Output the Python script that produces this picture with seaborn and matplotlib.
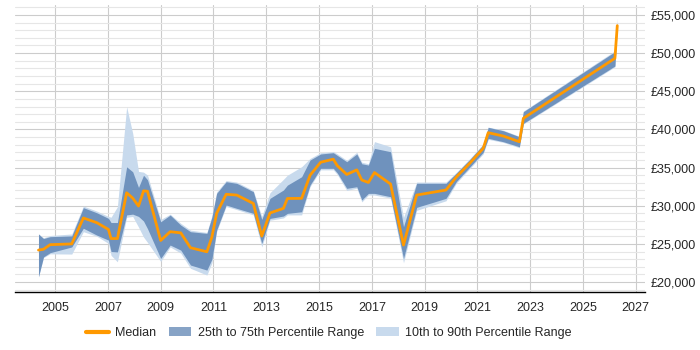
import numpy as np
import pandas as pd
import matplotlib
matplotlib.use("Agg")
import matplotlib.pyplot as plt
from matplotlib.ticker import MultipleLocator, FuncFormatter
from matplotlib.patches import Patch
from matplotlib.lines import Line2D
import seaborn as sns

# values
years = [2004.37, 2004.56, 2004.81, 2005.63, 2006.07, 2006.58, 2007.02, 2007.12, 2007.36,
         2007.71, 2007.94, 2008.16, 2008.35, 2008.5, 2009.0, 2009.36, 2009.76, 2010.13,
         2010.75, 2010.94, 2011.12, 2011.48, 2011.88, 2012.51, 2012.83, 2013.14, 2013.65,
         2013.8, 2014.34, 2014.66, 2015.06, 2015.54, 2015.69, 2016.05, 2016.43, 2016.62,
         2016.87, 2017.1, 2017.71, 2018.2, 2018.7, 2019.81, 2020.21, 2020.72, 2021.22,
         2021.41, 2021.98, 2022.59, 2022.74, 2026.21, 2026.3]
median = [24190, 24300, 24900, 25000, 28400, 27780, 26900, 25700, 25700,
          31700, 31000, 29960, 31950, 31900, 25450, 26600, 26450, 24500,
          23970, 25900, 29000, 31500, 31400, 30300, 26030, 29050, 29660,
          30950, 30970, 34000, 35700, 36100, 35250, 34100, 34700, 33370,
          33050, 34350, 32840, 24850, 31400, 32060, 33800, 35600, 37520,
          39570, 39130, 38390, 41450, 49320, 53600]
p25 = [20700, 23300, 23850, 24600, 27050, 26150, 25500, 24000, 23950,
       28800, 28900, 28600, 28000, 27000, 23100, 24850, 24190, 22230,
       21570, 23000, 26810, 30090, 29660, 29000, 25070, 28340, 28650,
       29000, 29210, 32710, 34900, 34900, 34300, 32280, 32490, 30750,
       31620, 31620, 31180, 23100, 29790, 30970, 33200, 35100, 37000,
       38830, 38390, 37730, 40790, 48310, 53400]
p75 = [26300, 25700, 25950, 26050, 29750, 29080, 28350, 27800, 27800,
       35100, 34450, 32400, 34000, 33400, 27900, 28780, 27470, 26600,
       26380, 28500, 31620, 33150, 32940, 31840, 28210, 30970, 32060,
       32700, 33800, 35990, 36780, 36950, 36600, 35770, 36780, 35500,
       35330, 37520, 37080, 27250, 32940, 32940, 34300, 36100, 38000,
       40270, 39830, 39040, 42320, 50180, 53900]
p10 = [20700, 23200, 23700, 23670, 26600, 26000, 25070, 23500, 22660,
       28480, 28600, 27200, 25900, 25200, 22700, 24600, 23800, 21800,
       20920, 22500, 26600, 29900, 29500, 28800, 24600, 28100, 28400,
       28800, 28800, 32500, 34700, 34700, 34100, 32000, 32300, 30500,
       31400, 31400, 31000, 22530, 29400, 30650, 33000, 34900, 36800,
       38700, 38300, 37600, 40700, 48200, 53300]
p90 = [26300, 25800, 26100, 26300, 29960, 29300, 28600, 28500, 29870,
       42970, 39490, 34500, 34400, 34020, 28200, 28900, 27700, 26800,
       26500, 28700, 31800, 33300, 33100, 32000, 28600, 31700, 33460,
       34000, 35110, 36200, 36950, 37100, 36800, 35950, 37000, 35700,
       35500, 38400, 37730, 28480, 33100, 33100, 34400, 36200, 38100,
       40300, 39900, 39100, 42400, 50300, 54560]
xticks = [2005, 2007, 2009, 2011, 2013, 2015, 2017, 2019, 2021, 2023, 2025, 2027]

df = pd.DataFrame({"year": years, "median": median,
                   "p10": p10, "p25": p25, "p75": p75, "p90": p90})

sns.set_style("white")
plt.rcParams['font.family'] = ['Liberation Sans', 'DejaVu Sans']

orange = "#ff9900"
dark = "#6f92bd"
light = "#c8daed"

fig = plt.figure(figsize=(7, 3.5), dpi=100)
ax = fig.add_axes([15 / 700, 1 - 292 / 350, 630 / 700, 287 / 350])

ax.fill_between(df["year"], df["p10"], df["p90"], color=light, lw=0, zorder=2)
ax.fill_between(df["year"], df["p25"], df["p75"], color=dark, lw=0, zorder=3)
sns.lineplot(data=df, x="year", y="median", color=orange, lw=2, ax=ax, zorder=4)

ax.set_xlim(2003.48, 2027.35)
ax.set_ylim(18700, 56300)
ax.set_xticks(xticks)
ax.set_xticklabels([str(t) for t in xticks])
ax.yaxis.set_major_locator(MultipleLocator(5000))
ax.yaxis.set_minor_locator(MultipleLocator(1000))
ax.yaxis.set_major_formatter(FuncFormatter(lambda v, p: f"£{int(v):,}"))
ax.yaxis.tick_right()
ax.tick_params(axis="y", which="both", length=0, labelsize=9, pad=4)
ax.tick_params(axis="x", length=4, color="#bbbbbb", labelsize=9, pad=3)

ax.grid(which="major", axis="both", color="#cccccc", lw=0.8, zorder=0)
ax.grid(which="minor", axis="y", color="#e6e6e6", lw=0.8, zorder=0)
ax.set_axisbelow(True)
for s in ["top", "left", "right"]:
    ax.spines[s].set_visible(False)
ax.spines["bottom"].set_color("black")
ax.spines["bottom"].set_linewidth(1)
ax.set_xlabel("")
ax.set_ylabel("")

handles = [Line2D([0], [0], color=orange, lw=3),
           Patch(facecolor="#87a3c6", edgecolor="none"),
           Patch(facecolor=light, edgecolor="none")]
labels = ["Median", "25th to 75th Percentile Range", "10th to 90th Percentile Range"]
fig.legend(handles, labels, loc="center", bbox_to_anchor=(0.47, 1 - 333 / 350),
           ncol=3, frameon=False, fontsize=9, handlelength=1.8, columnspacing=1.0,
           handletextpad=0.5)

fig.savefig("out.png", dpi=100)
